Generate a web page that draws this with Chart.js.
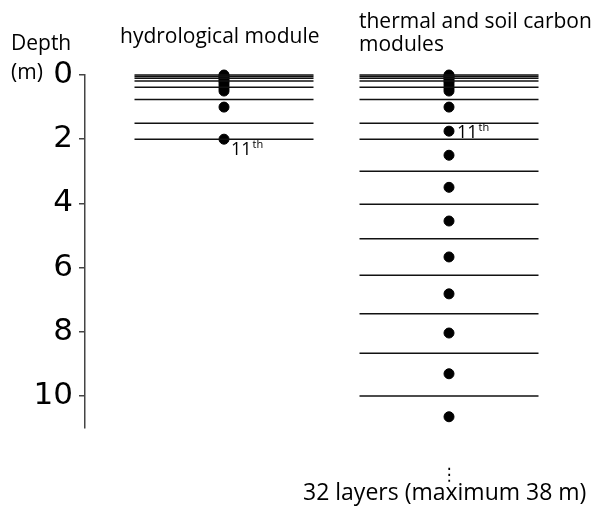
<!DOCTYPE html>
<html>
<head>
<meta charset="utf-8">
<script src="https://cdn.jsdelivr.net/npm/chart.js@4"></script>
<style>
  body { margin: 0; background: #fff; }
</style>
</head>
<body>
<canvas id="myChart" width="592" height="509"></canvas>
<script>
// layer boundaries (m) for each module
const hydro_bounds = [0, 0.05, 0.1, 0.19, 0.38, 0.76, 1.5, 2.0];
const thermal_bounds = [0, 0.05, 0.1, 0.19, 0.38, 0.76, 1.5, 2.0, 3.0, 4.03, 5.1, 6.24, 7.44, 8.67, 10.0];

// layer nodes (m), one dot each
const hydro_nodes = [0, 0.03, 0.07, 0.12, 0.18, 0.25, 0.33, 0.42, 0.5, 1.0, 2.0];
const thermal_nodes = [0, 0.03, 0.07, 0.12, 0.18, 0.25, 0.33, 0.42, 0.5, 1.0, 1.75, 2.5, 3.5, 4.55, 5.67, 6.82, 8.04, 9.31, 10.65];

const depth_ticks = [0, 2, 4, 6, 8, 10];

const columns = [
    { center: 2.78, half: 1.79, bounds: hydro_bounds, nodes: hydro_nodes },
    { center: 7.28, half: 1.79, bounds: thermal_bounds, nodes: thermal_nodes },
];

const datasets = [];
columns.forEach(col => {
    col.bounds.forEach(d => {
        datasets.push({
            type: 'scatter',
            showLine: true,
            data: [{ x: col.center - col.half, y: d }, { x: col.center + col.half, y: d }],
            borderColor: '#111',
            borderWidth: 1.5,
            pointRadius: 0,
            clip: false,
        });
    });
});
columns.forEach(col => {
    datasets.push({
        type: 'scatter',
        data: col.nodes.map(d => ({ x: col.center, y: d })),
        backgroundColor: '#000',
        borderColor: '#000',
        pointRadius: 5,
        clip: false,
    });
});

const textPlugin = {
    id: 'texts',
    afterDraw(chart) {
        const ctx = chart.ctx;
        const xs = chart.scales.x, ys = chart.scales.y;
        ctx.save();
        ctx.fillStyle = '#000';
        ctx.textBaseline = 'alphabetic';
        ctx.textAlign = 'left';
        ctx.font = '21px "Open Sans"';
        ctx.fillText('Depth', 11, 50);
        ctx.fillText('(m)', 11, 79);
        ctx.fillText('hydrological module', 120, 43);
        ctx.fillText('thermal and soil carbon', 359, 28);
        ctx.fillText('modules', 359, 51);
        ctx.font = '23px "Open Sans"';
        ctx.fillText('32 layers (maximum 38 m)', 303, 500);
        ctx.textAlign = 'center';
        ctx.font = '17px "DejaVu Sans"';
        ctx.fillText('\u22EE', xs.getPixelForValue(columns[1].center), 480);

        // 11th layer markers
        const marks = [
            { col: columns[0], dx: 7, dy: 16 },
            { col: columns[1], dx: 8, dy: 7 },
        ];
        ctx.textAlign = 'left';
        marks.forEach(m => {
            const px = xs.getPixelForValue(m.col.center) + m.dx;
            const py = ys.getPixelForValue(m.col.nodes[10]) + m.dy;
            ctx.font = '18px "Open Sans"';
            ctx.fillText('11', px, py);
            const w = ctx.measureText('11').width;
            ctx.font = '11px "Open Sans"';
            ctx.fillText('th', px + w + 1, py - 7);
        });
        ctx.restore();
    }
};

const myChart = new Chart('myChart', {
    data: { datasets: datasets },
    plugins: [textPlugin],
    options: {
        responsive: false,
        animation: false,
        devicePixelRatio: 1,
        layout: { padding: { top: 75, bottom: 81, left: 0, right: 7 } },
        plugins: {
            legend: { display: false },
            tooltip: { enabled: false },
        },
        scales: {
            x: {
                type: 'linear',
                display: false,
                min: 0,
                max: 10,
            },
            y: {
                type: 'linear',
                reverse: true,
                min: 0,
                max: 11,
                afterBuildTicks: s => { s.ticks = depth_ticks.map(v => ({ value: v })); },
                afterFit: s => { s.width = 85; },
                ticks: {
                    font: { family: 'DejaVu Sans', size: 31 },
                    color: '#000',
                    padding: 6,
                },
                grid: {
                    drawOnChartArea: false,
                    tickLength: 6,
                    color: '#444',
                    lineWidth: 1.5,
                },
                border: { display: true, color: '#444', width: 1.5 },
            },
        },
    },
});
</script>
</body>
</html>
